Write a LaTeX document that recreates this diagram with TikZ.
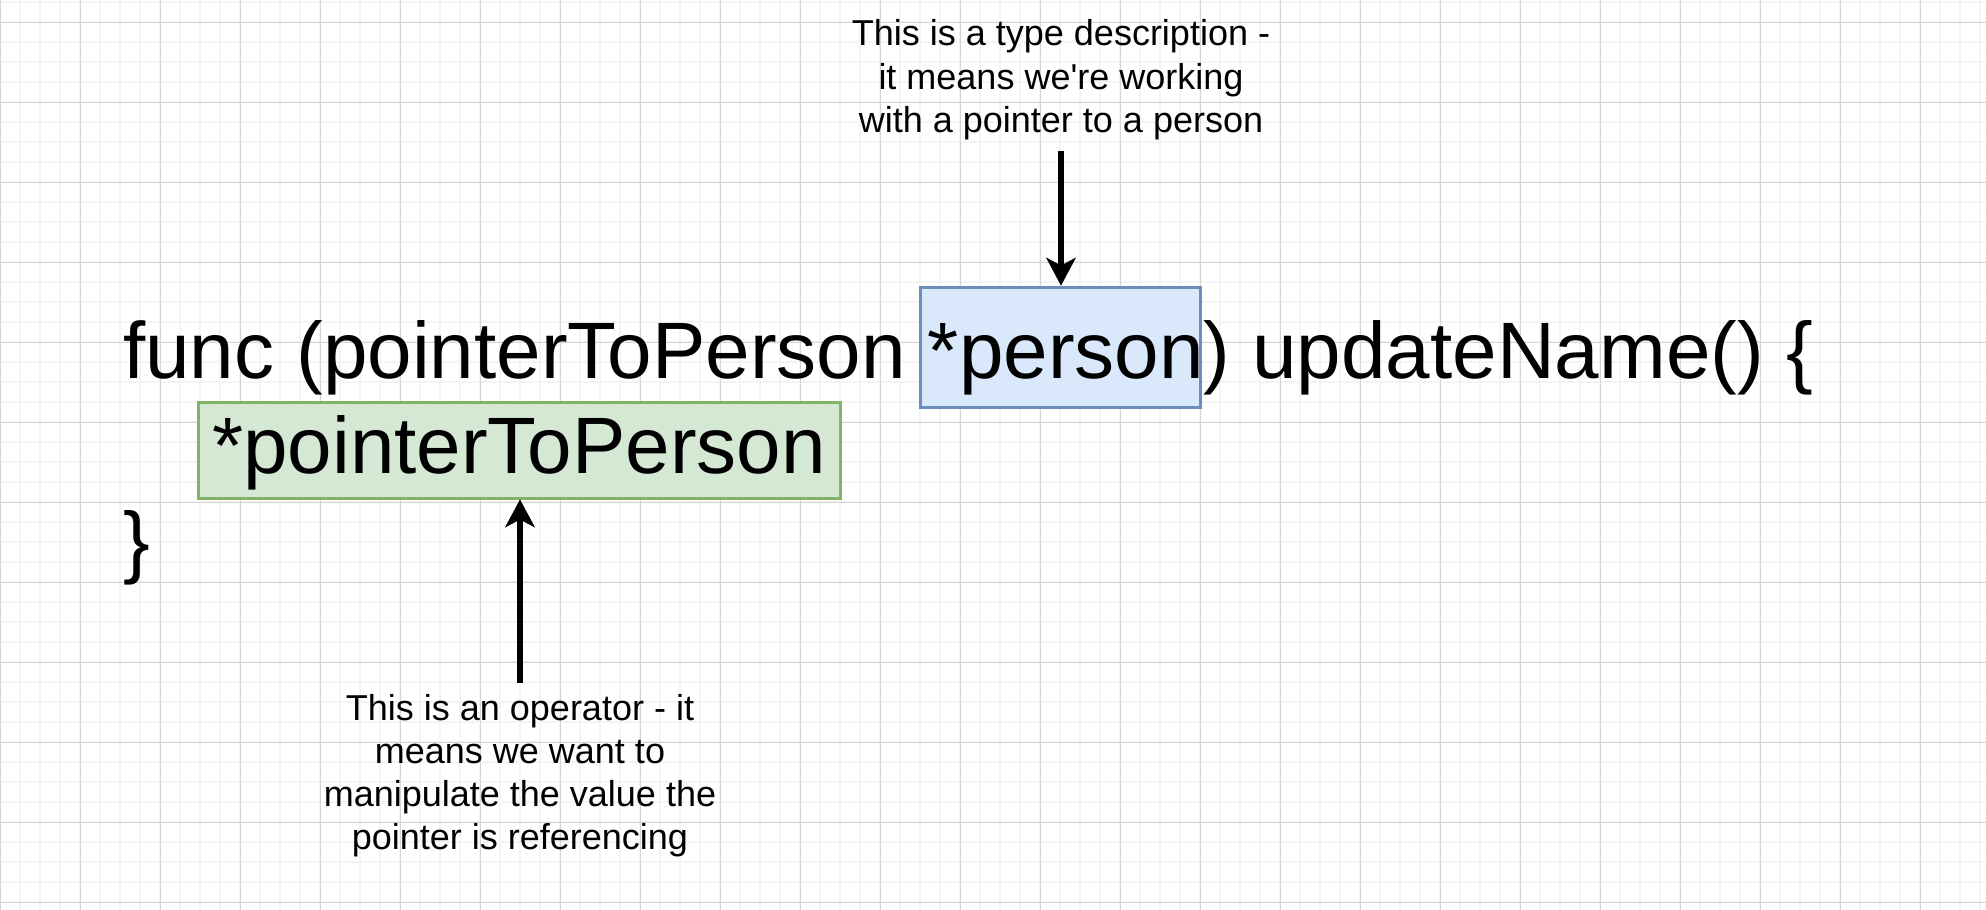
\documentclass[tikz,border=0pt]{standalone}
\usepackage{fontspec}
\setmainfont{Liberation Sans}
\usepackage{xcolor}
\usetikzlibrary{arrows.meta,positioning}

\definecolor{gridminor}{HTML}{F4F4F4}
\definecolor{gridmajor}{HTML}{D4D4D4}
\definecolor{typefill}{HTML}{DAE8FC}
\definecolor{typeline}{HTML}{6C8EBF}
\definecolor{opfill}{HTML}{D5E8D4}
\definecolor{opline}{HTML}{82B366}

\begin{document}
\begin{tikzpicture}[x=1pt,y=-1pt,
  code/.style={inner sep=0pt,font=\fontsize{80}{96}\selectfont},
  note/.style={align=center,inner xsep=0pt,inner ysep=11pt,font=\fontsize{36}{43.2}\selectfont},
  typebox/.style={draw=typeline,fill=typefill,line width=3pt,minimum width=280pt,minimum height=120pt,inner sep=0pt},
  opbox/.style={draw=opline,fill=opfill,line width=3pt,minimum width=642pt,minimum height=96pt,inner sep=0pt},
  pointer/.style={line width=6pt,-{Stealth[length=28pt,width=30pt,inset=8pt,line width=0.5pt]}}]
\useasboundingbox (0,0) rectangle (1986,910);
\fill[white] (0,0) rectangle (1986,910);
\foreach \x in {0,20,...,1980}{
  \draw[gridminor,line width=1.5pt] (\x,0) -- (\x,910);
}
\foreach \y in {2,22,...,902}{
  \draw[gridminor,line width=1.5pt] (0,\y) -- (1986,\y);
}
\foreach \x in {0,80,...,1920}{
  \draw[gridmajor,line width=1pt] (\x,0) -- (\x,910);
}
\foreach \y in {22,102,...,902}{
  \draw[gridmajor,line width=1pt] (0,\y) -- (1986,\y);
}
\node[typebox] (ptrtype) at (1060,347) {};
\node[opbox] (deref) at (519,450) {};
\node[code,anchor=base west] (sigline) at (123,378) {func (pointerToPerson *person) updateName() \{};
\node[code,anchor=base west] (bodyline) at (212,473) {*pointerToPerson};
\node[code,anchor=base west] (closeline) at (123,568) {\}};
\node[note,anchor=south] (typenote) at (1061,151) {This is a type description -\\it means we\textquotesingle re working\\with a pointer to a person};
\node[note,anchor=north] (opnote) at (520,683) {This is an operator - it\\means we want to\\manipulate the value the\\pointer is referencing};
\draw[pointer] (typenote.south) -- (typenote.south |- ptrtype.north);
\draw[pointer] (opnote.north) -- (opnote.north |- deref.south);
\end{tikzpicture}
\end{document}
